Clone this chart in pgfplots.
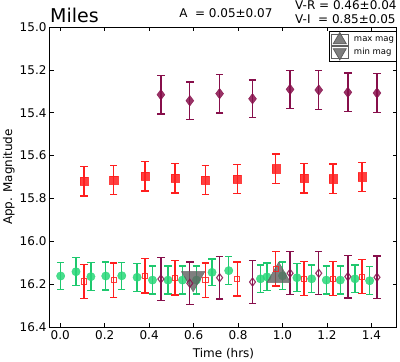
\documentclass[border=0pt]{standalone}
\usepackage{fontspec}
\setmainfont{DejaVu Sans}
\usepackage{pgfplots}
\pgfplotsset{compat=1.18}

\definecolor{mgreen}{RGB}{40,215,120}
\definecolor{mgreenbar}{RGB}{30,200,110}
\definecolor{mred}{RGB}{255,30,30}
\definecolor{mpurp}{RGB}{135,15,75}
\definecolor{mgray}{RGB}{95,95,95}
\definecolor{lgray}{RGB}{130,130,130}

\pgfplotstableread{
x y e
0.002 16.162 0.062
0.071 16.142 0.065
0.138 16.165 0.065
0.205 16.162 0.065
0.277 16.161 0.063
0.346 16.168 0.065
0.415 16.181 0.065
0.485 16.181 0.065
0.550 16.181 0.065
0.613 16.181 0.065
0.683 16.145 0.062
0.758 16.137 0.065
0.901 16.175 0.065
0.930 16.166 0.065
1.000 16.161 0.065
1.065 16.170 0.065
1.131 16.175 0.065
1.197 16.181 0.065
1.260 16.181 0.065
1.326 16.175 0.065
1.392 16.184 0.065
}\greendata

\pgfplotstableread{
x y e
0.107 15.720 0.068
0.241 15.714 0.068
0.382 15.697 0.068
0.516 15.706 0.068
0.653 15.714 0.068
0.796 15.709 0.068
0.970 15.661 0.068
1.097 15.706 0.068
1.227 15.708 0.068
1.357 15.699 0.068
}\redfilled

\pgfplotstableread{
x y e
0.107 16.187 0.080
0.241 16.181 0.080
0.382 16.161 0.080
0.516 16.171 0.080
0.653 16.181 0.080
0.796 16.176 0.080
0.970 16.128 0.080
1.097 16.174 0.080
1.227 16.174 0.080
1.357 16.165 0.080
}\redopen

\pgfplotstableread{
x y e
0.453 15.316 0.090
0.583 15.344 0.088
0.717 15.311 0.090
0.865 15.335 0.088
1.034 15.291 0.088
1.163 15.294 0.090
1.294 15.305 0.090
1.425 15.308 0.090
}\purpfilled

\pgfplotstableread{
x y e
0.453 16.176 0.100
0.583 16.196 0.100
0.717 16.170 0.100
0.865 16.190 0.100
1.034 16.149 0.100
1.163 16.149 0.100
1.294 16.165 0.100
1.425 16.168 0.100
}\purpopen

\begin{document}
\begin{tikzpicture}
\path[use as bounding box] (-50pt,-35pt) rectangle (350pt,327pt);
\begin{axis}[
  at={(0,0)}, anchor=south west,
  scale only axis, width=347pt, height=300pt,
  xmin=-0.046, xmax=1.515, ymin=15.0, ymax=16.4, y dir=reverse,
  xtick={0,0.2,0.4,0.6,0.8,1.0,1.2,1.4},
  ytick={15.0,15.2,15.4,15.6,15.8,16.0,16.2,16.4},
  tick align=inside, tick pos=both, major tick length=4pt,
  tick style={black, line width=0.6pt},
  axis line style={line width=1pt},
  /pgf/number format/assume math mode=true,
  xticklabel style={/pgf/number format/fixed,/pgf/number format/fixed zerofill,/pgf/number format/precision=1},
  yticklabel style={/pgf/number format/fixed,/pgf/number format/fixed zerofill,/pgf/number format/precision=1},
  tick label style={font=\fontsize{12}{14}\selectfont},
  label style={font=\fontsize{12}{14}\selectfont},
  xlabel={Time (hrs)},
  ylabel={App. Magnitude},
  xlabel style={at={(axis description cs:0.5,-0.1033)}, anchor=base},
  ylabel style={at={(axis description cs:-0.1095,0.5)}, anchor=base},
  clip=false,
  legend style={at={(1.0,0.987)}, anchor=north east, draw=black, line width=0.8pt,
    font=\fontsize{8.5}{9}\selectfont, inner xsep=1.5pt, inner ysep=1.2pt, row sep=0pt,
    column sep=4.3pt, nodes={inner xsep=1pt, inner ysep=0.5pt}},
  legend cell align=left,
  legend image code/.code={\path (0cm,-5.8pt) rectangle (0.6cm,5.8pt); \draw[#1, mark size=7.5pt, fill=lgray] plot coordinates {(0.3cm,0cm)};},
]
% green circles
\addplot[forget plot, color=mgreen, only marks, mark=*, mark size=4.2pt,
  mark options={solid, fill=mgreen, draw=mgreen, line width=0.4pt, opacity=0.85},
  error bars/.cd, y dir=both, y explicit,
  error bar style={line width=1.3pt, color=mgreenbar},
  error mark options={rotate=90, mgreenbar, solid, line width=1.3pt, mark size=3.7pt}]
  table[x=x, y=y, y error=e] {\greendata};
% triangles
\addplot[color=mgray, only marks, mark=triangle*, mark size=13.5pt,
  mark options={solid, fill=mgray, draw=none, fill opacity=0.8}]
  coordinates {(0.983,16.16)};
\addlegendentry{max mag}
\addplot[color=mgray, only marks, mark=triangle*, mark size=13.5pt,
  mark options={solid, fill=mgray, draw=none, fill opacity=0.8, rotate=180}]
  coordinates {(0.598,16.173)};
\addlegendentry{min mag}
% red open squares
\addplot[forget plot, color=mred, only marks, mark=square, mark size=2.6pt,
  mark options={solid, draw=mred, line width=0.9pt, fill=white, opacity=0.85},
  error bars/.cd, y dir=both, y explicit,
  error bar style={line width=1.3pt, color=mred},
  error mark options={rotate=90, mred, solid, line width=1.3pt, mark size=3.7pt}]
  table[x=x, y=y, y error=e] {\redopen};
% purple open diamonds
\addplot[forget plot, color=mpurp, only marks, mark=diamond, mark size=4pt,
  mark options={solid, draw=mpurp, line width=1.1pt, fill=white, opacity=0.85},
  error bars/.cd, y dir=both, y explicit,
  error bar style={line width=1.3pt, color=mpurp},
  error mark options={rotate=90, mpurp, solid, line width=1.3pt, mark size=3.7pt}]
  table[x=x, y=y, y error=e] {\purpopen};
% red filled squares
\addplot[forget plot, color=mred, only marks, mark=square*, mark size=4.1pt,
  mark options={solid, fill=mred, draw=mred, line width=0.4pt, opacity=0.85},
  error bars/.cd, y dir=both, y explicit,
  error bar style={line width=1.3pt, color=mred},
  error mark options={rotate=90, mred, solid, line width=1.3pt, mark size=3.7pt}]
  table[x=x, y=y, y error=e] {\redfilled};
% purple filled diamonds
\addplot[forget plot, color=mpurp, only marks, mark=diamond*, mark size=5.3pt,
  mark options={solid, fill=mpurp, draw=mpurp, line width=0.4pt, opacity=0.85},
  error bars/.cd, y dir=both, y explicit,
  error bar style={line width=1.3pt, color=mpurp},
  error mark options={rotate=90, mpurp, solid, line width=1.3pt, mark size=3.7pt}]
  table[x=x, y=y, y error=e] {\purpfilled};

\node[anchor=base west, font=\fontsize{19}{22}\selectfont, inner sep=0pt] at (axis description cs:0,1.0143) {Miles};
\node[anchor=base west, font=\fontsize{12}{14}\selectfont, inner sep=0pt] at (axis description cs:0.372,1.032) {A\ \ = 0.05±0.07};
\node[anchor=base west, font=\fontsize{12}{14}\selectfont, inner sep=0pt] at (axis description cs:0.706,1.06) {V-R = 0.46±0.04};
\node[anchor=base west, font=\fontsize{12}{14}\selectfont, inner sep=0pt] at (axis description cs:0.706,1.013) {V-I\ \ = 0.85±0.05};
\end{axis}
\end{tikzpicture}
\end{document}
